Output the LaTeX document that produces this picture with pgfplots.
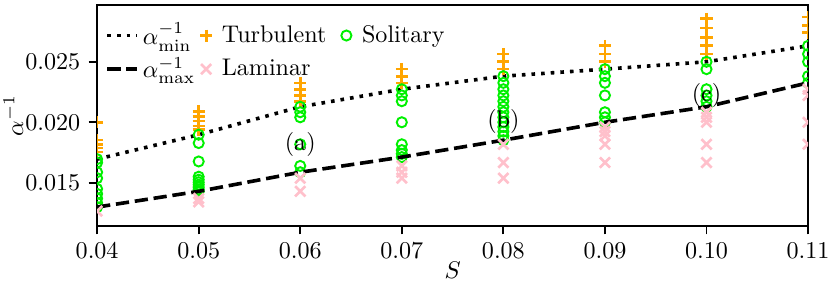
\documentclass[border=0pt]{standalone}
\usepackage{pgfplots}
\pgfplotsset{compat=1.18}
\usepackage{pgfplotstable}
\definecolor{turb}{HTML}{FFA500}
\definecolor{sol}{HTML}{00F000}
\definecolor{lam}{HTML}{FFC0CB}
\pgfplotsset{
  linelegend/.style={legend image code/.code={\draw[##1] (0pt,0pt) -- (12.5pt,0pt);}},
  marklegend/.style={legend image code/.code={\path[draw=none,fill=none] (0pt,0pt) -- (10pt,0pt); \draw[##1] plot coordinates {(5pt,0pt)};}},
}

\pgfplotstableread{
x y
0.04 0.02000
0.04 0.01852
0.04 0.01818
0.04 0.01786
0.04 0.01754
0.05 0.02090
0.05 0.02050
0.05 0.02010
0.05 0.01970
0.05 0.01940
0.06 0.02326
0.06 0.02273
0.06 0.02222
0.06 0.02174
0.07 0.02439
0.07 0.02381
0.07 0.02326
0.08 0.02564
0.08 0.02500
0.08 0.02439
0.09 0.02632
0.09 0.02564
0.09 0.02500
0.10 0.02857
0.10 0.02778
0.10 0.02703
0.10 0.02632
0.10 0.02564
0.11 0.02870
0.11 0.02800
0.11 0.02740
}\turbtab

\pgfplotstableread{
x y
0.04 0.01695
0.04 0.01667
0.04 0.01587
0.04 0.01538
0.04 0.01449
0.04 0.01408
0.04 0.01370
0.04 0.01333
0.04 0.01299
0.05 0.01897
0.05 0.01828
0.05 0.01676
0.05 0.01550
0.05 0.01525
0.05 0.01504
0.05 0.01484
0.05 0.01464
0.05 0.01445
0.05 0.01429
0.06 0.02128
0.06 0.02083
0.06 0.02041
0.06 0.01818
0.06 0.01639
0.06 0.01587
0.07 0.02273
0.07 0.02222
0.07 0.02174
0.07 0.02000
0.07 0.01818
0.07 0.01770
0.07 0.01739
0.07 0.01712
0.08 0.02381
0.08 0.02326
0.08 0.02273
0.08 0.02222
0.08 0.02174
0.08 0.02128
0.08 0.02083
0.08 0.02041
0.08 0.02000
0.08 0.01961
0.08 0.01923
0.08 0.01887
0.08 0.01852
0.09 0.02439
0.09 0.02381
0.09 0.02326
0.09 0.02222
0.09 0.02083
0.09 0.02041
0.09 0.02000
0.10 0.02500
0.10 0.02439
0.10 0.02273
0.10 0.02222
0.10 0.02174
0.10 0.02128
0.11 0.02632
0.11 0.02564
0.11 0.02500
0.11 0.02381
0.11 0.02326
}\soltab

\pgfplotstableread{
x y
0.04 0.01266
0.05 0.01370
0.05 0.01342
0.06 0.01538
0.06 0.01429
0.07 0.01639
0.07 0.01587
0.07 0.01538
0.08 0.01818
0.08 0.01667
0.08 0.01538
0.09 0.01961
0.09 0.01923
0.09 0.01887
0.09 0.01818
0.09 0.01667
0.10 0.02083
0.10 0.02041
0.10 0.02000
0.10 0.01818
0.10 0.01667
0.11 0.02273
0.11 0.02222
0.11 0.02000
0.11 0.01818
}\lamtab

\pgfplotstableread{
x y
0.04 0.01695
0.05 0.01897
0.06 0.02128
0.07 0.02273
0.08 0.02381
0.09 0.02439
0.10 0.02500
0.11 0.02632
}\mintab

\pgfplotstableread{
x y
0.04 0.01299
0.05 0.01429
0.06 0.01587
0.07 0.01712
0.08 0.01852
0.09 0.02000
0.10 0.02128
0.11 0.02326
}\maxtab

\begin{document}
\begin{tikzpicture}
\begin{axis}[
  scale only axis, width=295pt, height=91.7pt,
  xmin=0.04, xmax=0.11, ymin=0.01142, ymax=0.02969,
  xtick={0.04,0.05,0.06,0.07,0.08,0.09,0.10,0.11},
  ytick={0.015,0.020,0.025},
  xticklabel style={/pgf/number format/.cd,fixed,fixed zerofill,precision=2},
  yticklabel style={/pgf/number format/.cd,fixed,fixed zerofill,precision=3},
  scaled x ticks=false, scaled y ticks=false,
  tick align=outside, xtick pos=bottom, ytick pos=left,
  major tick length=3.5pt,
  every tick/.style={black, line width=0.8pt},
  axis line style={line width=0.8pt},
  xlabel={$S$},
  xlabel style={at={(axis description cs:0.5,-0.1996)}, anchor=center},
  clip marker paths=true,
  legend columns=3,
  legend style={draw=none, fill=none, at={(axis description cs:0,1)}, anchor=north west,
    xshift=3.3pt, yshift=-6.8pt, inner sep=0pt, nodes={inner sep=0.5pt}, cells={anchor=west},
    row sep=3pt,
    /tikz/every odd column/.append style={column sep=1pt},
    /tikz/every even column/.append style={column sep=-0.9pt}},
]
\addplot[black, line width=1.5pt, dash pattern=on 1.5pt off 2.5pt, linelegend] table {\mintab};
\addlegendentry{$\alpha_{\mathrm{min}}^{-1}$}
\addplot[only marks, mark=+, mark size=2.5pt, turb, line width=1.1pt, marklegend] table {\turbtab};
\addlegendentry{Turbulent\kern3.7pt}
\addplot[only marks, mark=o, mark size=2.1pt, sol, line width=0.8pt, marklegend] table {\soltab};
\addlegendentry{Solitary}
\addplot[black, line width=1.5pt, dash pattern=on 5.5pt off 2.4pt, linelegend] table {\maxtab};
\addlegendentry{$\alpha_{\mathrm{max}}^{-1}$}
\addplot[only marks, mark=x, mark size=3pt, lam, line width=1.1pt, marklegend] table {\lamtab};
\addlegendentry{Laminar}
\node at (axis cs:0.06,0.01814) {(a)};
\node at (axis cs:0.08,0.02004) {(b)};
\node at (axis cs:0.10,0.02219) {(c)};
\end{axis}
\node[rotate=90] at ([xshift=-34.8pt]current axis.west) {$\alpha^{-1}$};
\pgfresetboundingbox
\path[use as bounding box] ([xshift=-40.3pt,yshift=-26.1pt]current axis.south west) rectangle ([xshift=9.1pt,yshift=2.1pt]current axis.north east);
\end{tikzpicture}
\end{document}
